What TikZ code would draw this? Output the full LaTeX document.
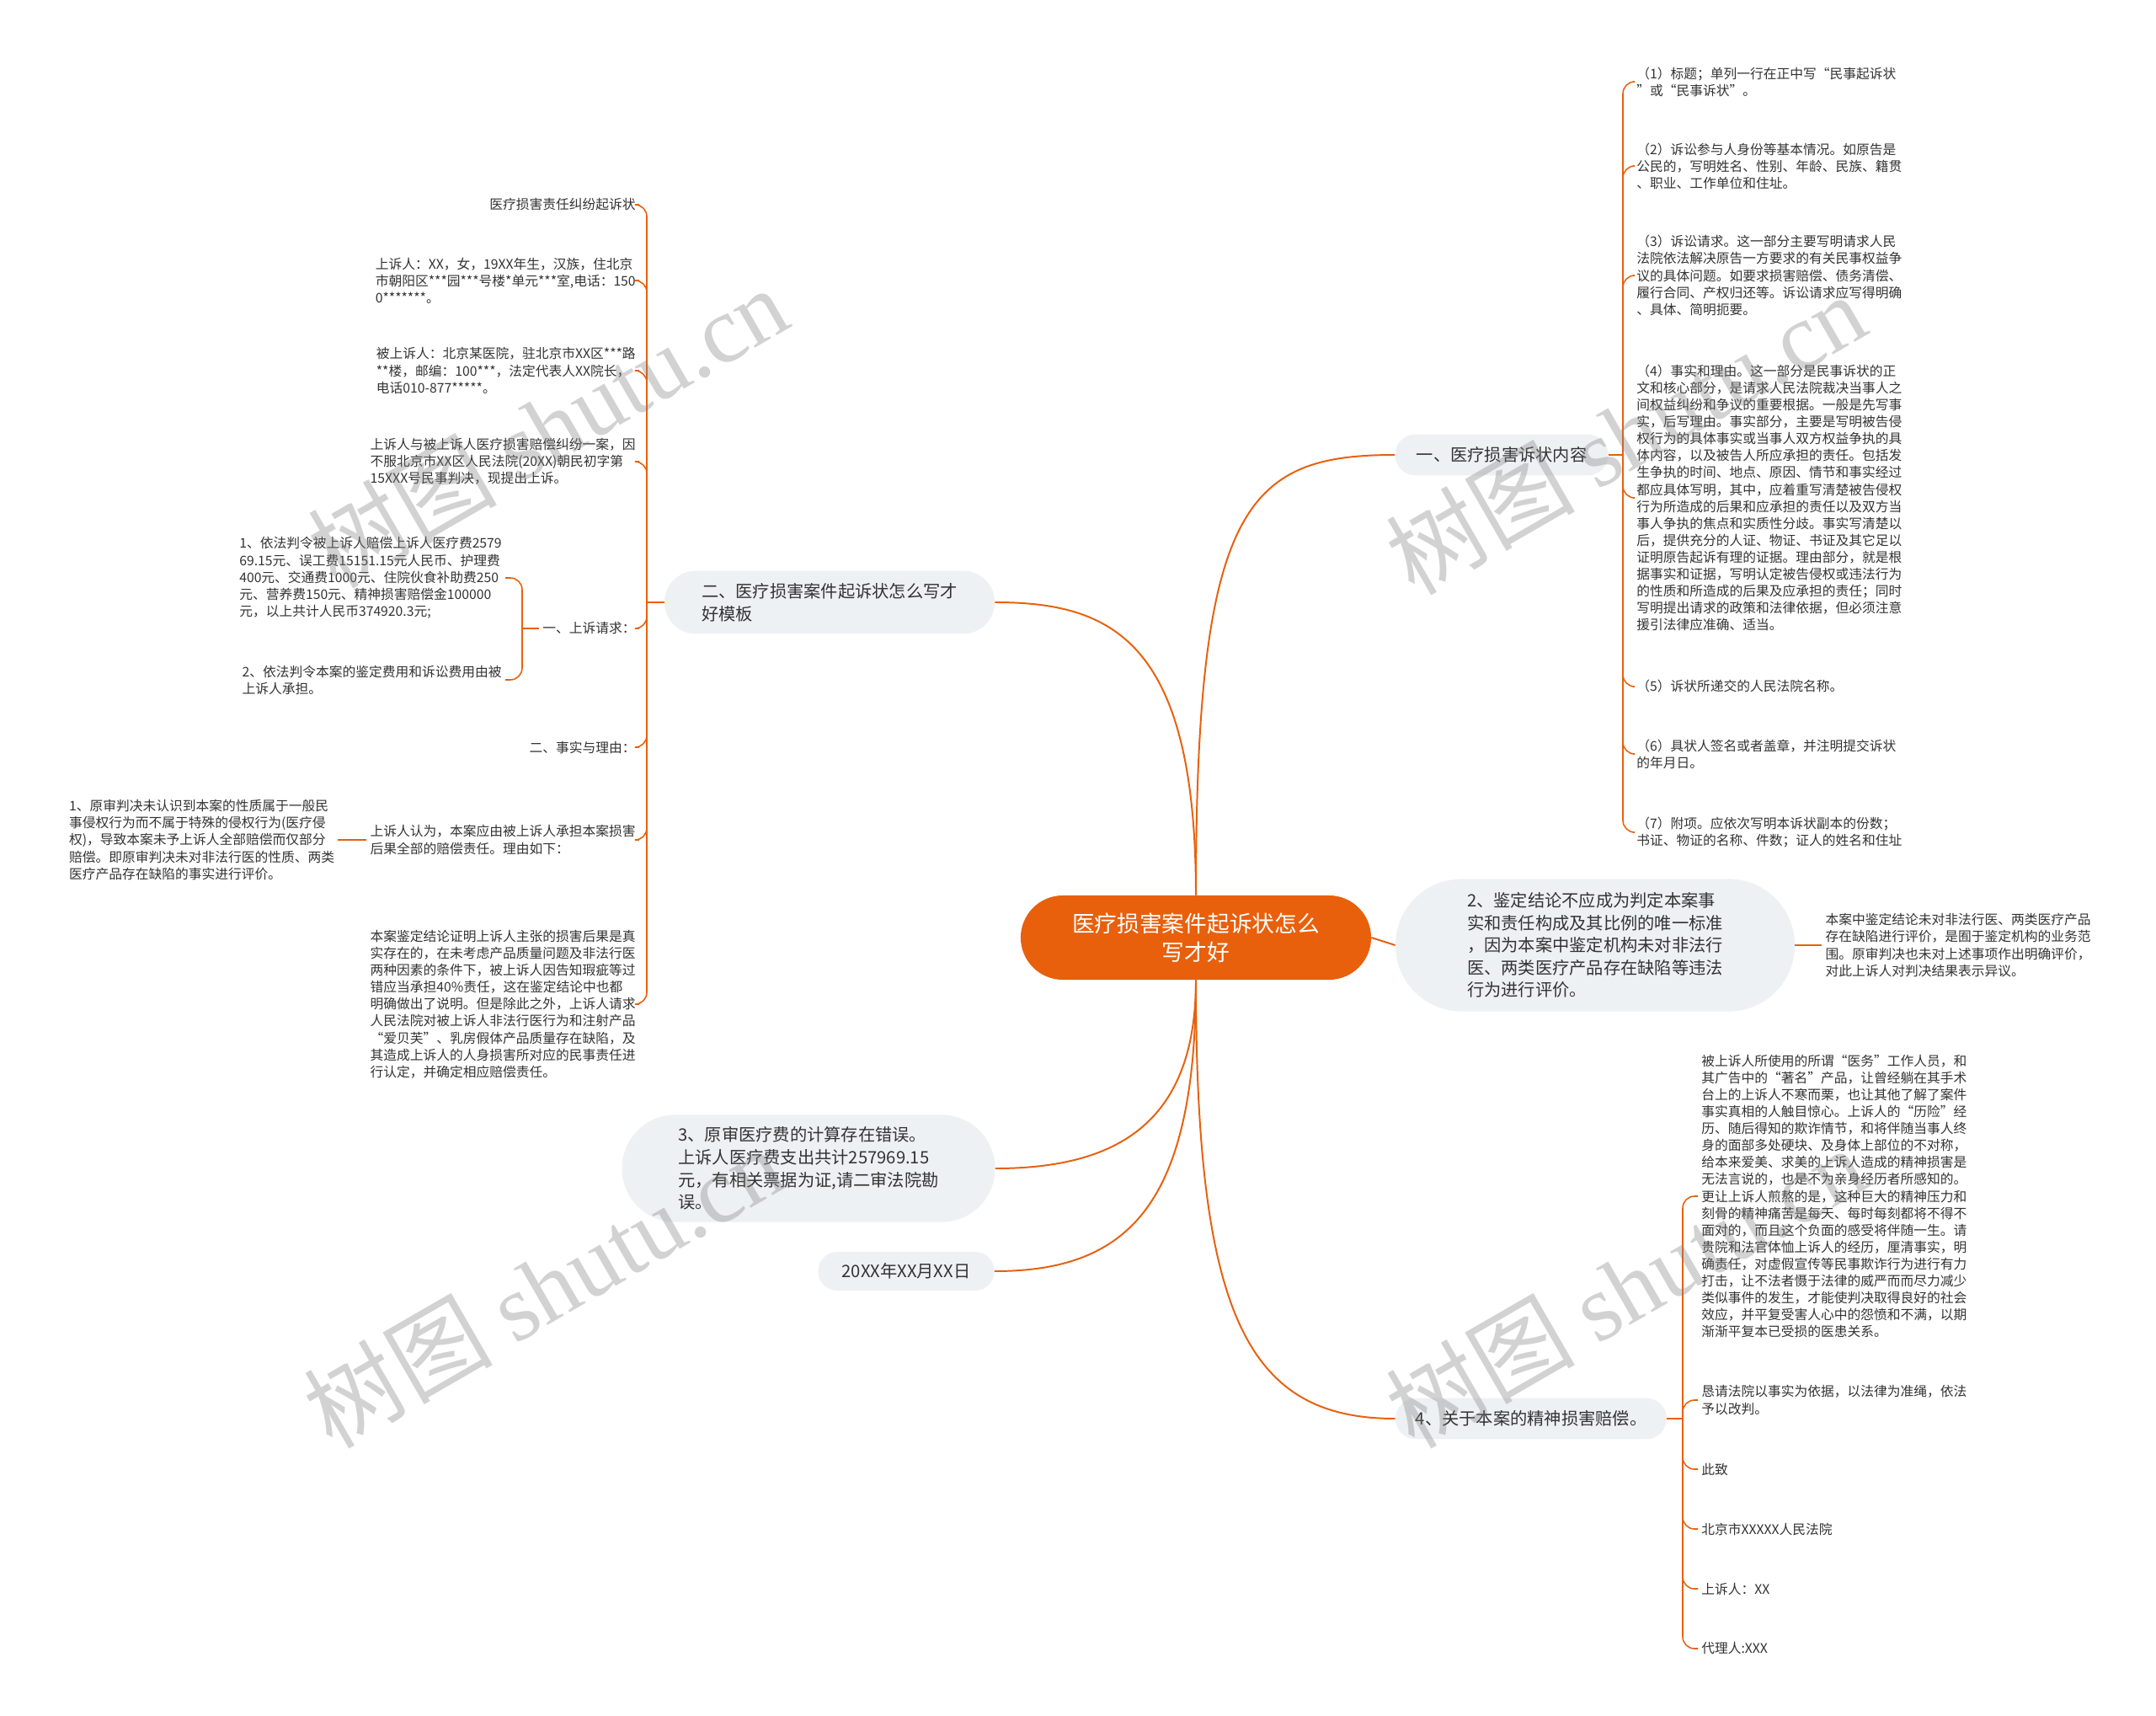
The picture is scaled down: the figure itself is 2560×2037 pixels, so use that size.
\documentclass[tikz,border=0pt]{standalone}
\usepackage{fontspec}
\setmainfont{Noto Sans CJK SC}
\newfontfamily\wmfont{Liberation Serif}
\usepackage{xcolor}
\usepackage{tikz}
\usetikzlibrary{positioning,calc}
\definecolor{Brand}{HTML}{E8600C}
\definecolor{BoxF}{HTML}{EEF1F4}
\definecolor{Ink}{HTML}{333333}

\begin{document}
\begin{tikzpicture}[x=0.025cm,y=-0.025cm,
    font=\fontsize{11.2}{14.3}\selectfont,
    root/.style={fill=Brand,text=white,rounded corners=1.25cm,minimum width=10.4cm,
      minimum height=2.5cm,align=center,font=\fontsize{19}{24}\selectfont},
    topic/.style={fill=BoxF,text=Ink,align=left,inner sep=0pt,
      font=\fontsize{14.4}{18.9}\selectfont},
    leaf/.style={text=Ink,align=left,inner sep=0.1cm},
    link/.style={draw=Brand,line width=1.4pt},
    twig/.style={draw=Brand,line width=1.1pt,rounded corners=10pt},
    wmark/.style={text=gray,text opacity=0.35,rotate=30,font=\fontsize{80}{80}\selectfont}]
  \fill[white] (0,0) rectangle (2560,2037);
  \useasboundingbox (0,0) rectangle (2560,2037);

  \node[root] (M) at (1420,1113) {医疗损害案件起诉状怎么\\写才好};

  \node[topic,minimum width=6.33cm,minimum height=1.22cm,rounded corners=0.61cm] (A) at (1783,540) {一、医疗损害诉状内容};
  \node[topic,minimum width=11.85cm,minimum height=3.93cm,rounded corners=1.96cm] (B) at (1894,1122) {2、鉴定结论不应成为判定本案事\\实和责任构成及其比例的唯一标准\\，因为本案中鉴定机构未对非法行\\医、两类医疗产品存在缺陷等违法\\行为进行评价。};
  \node[topic,minimum width=8.05cm,minimum height=1.22cm,rounded corners=0.61cm] (C) at (1818,1684) {4、关于本案的精神损害赔偿。};
  \node[topic,minimum width=9.8cm,minimum height=1.87cm,rounded corners=0.93cm] (D) at (985,715) {二、医疗损害案件起诉状怎么写才\\好模板};
  \node[topic,minimum width=11.07cm,minimum height=3.18cm,rounded corners=1.58cm] (E) at (960,1387) {3、原审医疗费的计算存在错误。\\上诉人医疗费支出共计257969.15\\元，有相关票据为证,请二审法院勘\\误。};
  \node[topic,minimum width=5.23cm,minimum height=1.15cm,rounded corners=0.57cm] (F) at (1076,1509) {20XX年XX月XX日};

  \draw[link] (M.north) .. controls (1420,600) and (1480,540) .. (A.west);
  \draw[link] (M.east) -- (B.west);
  \draw[link] (M.south) .. controls (1420,1560) and (1480,1684) .. (C.west);
  \draw[link] (M.north) .. controls (1420,760) and (1320,715) .. (D.east);
  \draw[link] (M.south) .. controls (1420,1330) and (1330,1387) .. (E.east);
  \draw[link] (M.south) .. controls (1420,1430) and (1340,1509) .. (F.east);

  \node[leaf,anchor=west] (a1) at (1939,97) {（1）标题；单列一行在正中写“民事起诉状\\”或“民事诉状”。};
  \node[leaf,anchor=west] (a2) at (1939,197) {（2）诉讼参与人身份等基本情况。如原告是\\公民的，写明姓名、性别、年龄、民族、籍贯\\、职业、工作单位和住址。};
  \node[leaf,anchor=west] (a3) at (1939,327) {（3）诉讼请求。这一部分主要写明请求人民\\法院依法解决原告一方要求的有关民事权益争\\议的具体问题。如要求损害赔偿、债务清偿、\\履行合同、产权归还等。诉讼请求应写得明确\\、具体、简明扼要。};
  \node[leaf,anchor=west] (a4) at (1939,591) {（4）事实和理由。这一部分是民事诉状的正\\文和核心部分，是请求人民法院裁决当事人之\\间权益纠纷和争议的重要根据。一般是先写事\\实，后写理由。事实部分，主要是写明被告侵\\权行为的具体事实或当事人双方权益争执的具\\体内容，以及被告人所应承担的责任。包括发\\生争执的时间、地点、原因、情节和事实经过\\都应具体写明，其中，应着重写清楚被告侵权\\行为所造成的后果和应承担的责任以及双方当\\事人争执的焦点和实质性分歧。事实写清楚以\\后，提供充分的人证、物证、书证及其它足以\\证明原告起诉有理的证据。理由部分，就是根\\据事实和证据，写明认定被告侵权或违法行为\\的性质和所造成的后果及应承担的责任；同时\\写明提出请求的政策和法律依据，但必须注意\\援引法律应准确、适当。};
  \node[leaf,anchor=west] (a5) at (1939,815) {（5）诉状所递交的人民法院名称。};
  \node[leaf,anchor=west] (a6) at (1939,895) {（6）具状人签名或者盖章，并注明提交诉状\\的年月日。};
  \node[leaf,anchor=west] (a7) at (1939,988) {（7）附项。应依次写明本诉状副本的份数；\\书证、物证的名称、件数；证人的姓名和住址};
  \coordinate (Aj) at (1927,540);
  \draw[twig] (A.east) -- (Aj);
  \foreach \n in {a1,a2,a3,a4,a5,a6,a7}
    \draw[twig] (Aj) |- (\n.west);

  \node[leaf,right=0.8cm of B] (b1) {本案中鉴定结论未对非法行医、两类医疗产品\\存在缺陷进行评价，是囿于鉴定机构的业务范\\围。原审判决也未对上述事项作出明确评价，\\对此上诉人对判决结果表示异议。};
  \draw[twig] (B.east) -- (b1.west);

  \node[leaf,anchor=west] (c1) at (2016,1420) {被上诉人所使用的所谓“医务”工作人员，和\\其广告中的“著名”产品，让曾经躺在其手术\\台上的上诉人不寒而栗，也让其他了解了案件\\事实真相的人触目惊心。上诉人的“历险”经\\历、随后得知的欺诈情节，和将伴随当事人终\\身的面部多处硬块、及身体上部位的不对称，\\给本来爱美、求美的上诉人造成的精神损害是\\无法言说的，也是不为亲身经历者所感知的。\\更让上诉人煎熬的是，这种巨大的精神压力和\\刻骨的精神痛苦是每天、每时每刻都将不得不\\面对的，而且这个负面的感受将伴随一生。请\\贵院和法官体恤上诉人的经历，厘清事实，明\\确责任，对虚假宣传等民事欺诈行为进行有力\\打击，让不法者慑于法律的威严而而尽力减少\\类似事件的发生，才能使判决取得良好的社会\\效应，并平复受害人心中的怨愤和不满，以期\\渐渐平复本已受损的医患关系。};
  \node[leaf,anchor=west] (c2) at (2016,1662) {恳请法院以事实为依据，以法律为准绳，依法\\予以改判。};
  \node[leaf,anchor=west] (c3) at (2016,1744) {此致};
  \node[leaf,anchor=west] (c4) at (2016,1815) {北京市XXXXX人民法院};
  \node[leaf,anchor=west] (c5) at (2016,1886) {上诉人：XX};
  \node[leaf,anchor=west] (c6) at (2016,1957) {代理人:XXX};
  \coordinate (Cj) at (1998,1684);
  \draw[twig] (C.east) -- (Cj);
  \foreach \n in {c1,c2,c3,c4,c5,c6}
    \draw[twig] (Cj) |- (\n.west);

  \node[leaf,anchor=east] (d1) at (759,243) {医疗损害责任纠纷起诉状};
  \node[leaf,anchor=east] (d2) at (759,333) {上诉人：XX，女，19XX年生，汉族，住北京\\市朝阳区***园***号楼*单元***室,电话：150\\0*******。};
  \node[leaf,anchor=east] (d3) at (759,440) {被上诉人：北京某医院，驻北京市XX区***路\\{}**楼，邮编：100***，法定代表人XX院长，\\电话010-877*****。};
  \node[leaf,anchor=east] (d4) at (759,548) {上诉人与被上诉人医疗损害赔偿纠纷一案，因\\不服北京市XX区人民法院(20XX)朝民初字第\\15XXX号民事判决，现提出上诉。};
  \node[leaf,anchor=east] (d5) at (759,746) {一、上诉请求：};
  \node[leaf,anchor=east] (d6) at (759,887) {二、事实与理由：};
  \node[leaf,anchor=east] (d7) at (759,997) {上诉人认为，本案应由被上诉人承担本案损害\\后果全部的赔偿责任。理由如下：};
  \node[leaf,anchor=east] (d8) at (759,1192) {本案鉴定结论证明上诉人主张的损害后果是真\\实存在的，在未考虑产品质量问题及非法行医\\两种因素的条件下，被上诉人因告知瑕疵等过\\错应当承担40\%责任，这在鉴定结论中也都\\明确做出了说明。但是除此之外，上诉人请求\\人民法院对被上诉人非法行医行为和注射产品\\“爱贝芙”、乳房假体产品质量存在缺陷，及\\其造成上诉人的人身损害所对应的民事责任进\\行认定，并确定相应赔偿责任。};
  \coordinate (Dj) at (768,715);
  \draw[twig] (D.west) -- (Dj);
  \foreach \n in {d1,d2,d3,d4,d5,d6,d7,d8}
    \draw[twig] (Dj) |- (\n.east);

  \node[leaf,anchor=east] (q1) at (600,686) {1、依法判令被上诉人赔偿上诉人医疗费2579\\69.15元、误工费15151.15元人民币、护理费\\400元、交通费1000元、住院伙食补助费250\\元、营养费150元、精神损害赔偿金100000\\元，以上共计人民币374920.3元;};
  \node[leaf,anchor=east] (q2) at (600,807) {2、依法判令本案的鉴定费用和诉讼费用由被\\上诉人承担。};
  \coordinate (Qj) at (620,746);
  \draw[twig] (d5.west) -- (Qj);
  \draw[twig] (Qj) |- (q1.east);
  \draw[twig] (Qj) |- (q2.east);

  \node[leaf,left=0.85cm of d7] (r1) {1、原审判决未认识到本案的性质属于一般民\\事侵权行为而不属于特殊的侵权行为(医疗侵\\权)，导致本案未予上诉人全部赔偿而仅部分\\赔偿。即原审判决未对非法行医的性质、两类\\医疗产品存在缺陷的事实进行评价。};
  \draw[twig] (d7.west) -- (r1.east);

  \node[wmark] (w1) at (650,506) {树图 {\wmfont shutu.cn}};
  \node[wmark] (w2) at (1930,514) {树图 {\wmfont shutu.cn}};
  \node[wmark] (w3) at (645,1527) {树图 {\wmfont shutu.cn}};
  \node[wmark] (w4) at (1930,1527) {树图 {\wmfont shutu.cn}};
\end{tikzpicture}
\end{document}
